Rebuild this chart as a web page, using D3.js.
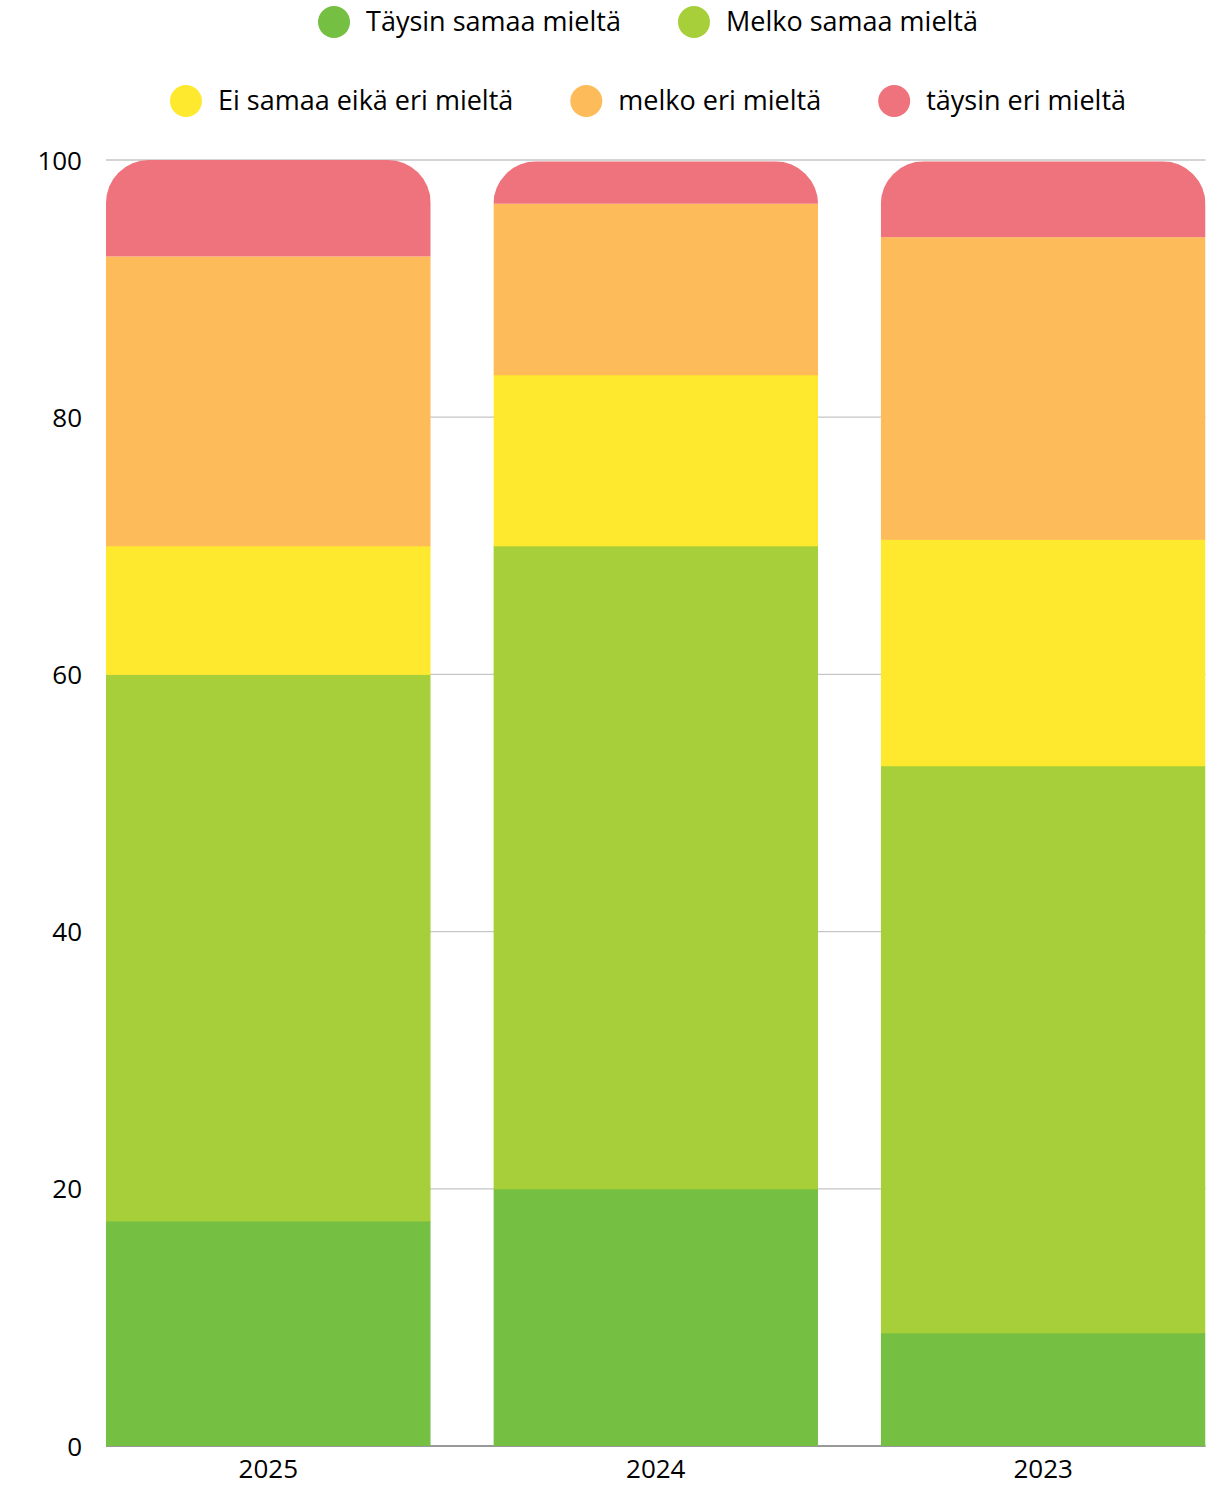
<!DOCTYPE html>
<html>
<head>
<meta charset="utf-8">
<script src="https://cdn.jsdelivr.net/npm/d3@7"></script>
<style>
  html, body { margin: 0; padding: 0; background: #fff; }
  svg { display: block; font-family: "Open Sans", sans-serif; }
</style>
</head>
<body>
<svg id="chart" width="1230" height="1485"></svg>
<script>
// Survey years (x categories)
const years = ["2025", "2024", "2023"];

// Answer categories, bottom to top of each stack
const seriesNames = [
  "Täysin samaa mieltä",
  "Melko samaa mieltä",
  "Ei samaa eikä eri mieltä",
  "melko eri mieltä",
  "täysin eri mieltä"
];
const seriesColors = ["#75bf43", "#a7cf3a", "#ffe92e", "#fdbb59", "#ef737c"];

// Share of answers (%) per year, one array per category
const taysinSamaa  = [17.5, 20.0, 8.8];
const melkoSamaa   = [42.5, 50.0, 44.1];
const eiSamaaEiEri = [10.0, 13.3, 17.6];
const melkoEri     = [22.5, 13.3, 23.5];
const taysinEri    = [7.5, 3.3, 5.9];

// Y axis ticks
const yTicks = [0, 20, 40, 60, 80, 100];

const seriesValues = [taysinSamaa, melkoSamaa, eiSamaaEiEri, melkoEri, taysinEri];

const rows = years.map((yr, i) => {
  const r = { year: yr };
  seriesNames.forEach((s, k) => { r[s] = seriesValues[k][i]; });
  return r;
});

const svg = d3.select("#chart");
const W = 1230, H = 1485;
const plotLeft = 106, plotRight = 1205.5, plotTop = 160, plotBottom = 1446;
const fontSize = 26;
const legendFontSize = 27;

const x = d3.scaleBand()
  .domain(years)
  .range([plotLeft, plotRight])
  .paddingInner(0.1618)
  .paddingOuter(0);

const y = d3.scaleLinear().domain([0, 100]).range([plotBottom, plotTop]);

// gridlines
svg.append("g")
  .selectAll("line")
  .data(yTicks.filter(d => d > 0))
  .join("line")
  .attr("x1", plotLeft).attr("x2", plotRight)
  .attr("y1", d => y(d)).attr("y2", d => y(d))
  .attr("stroke", "#c6c6c6").attr("stroke-width", 1.3);

// y axis labels
const yAxis = d3.axisLeft(y).tickValues(yTicks).tickSize(0).tickPadding(0);
const gy = svg.append("g").attr("transform", "translate(82,0)").call(yAxis);
gy.select(".domain").remove();
gy.selectAll("text")
  .attr("font-family", "Open Sans, sans-serif")
  .attr("font-size", fontSize)
  .attr("fill", "#000")
  .attr("dy", "0.35em");

// baseline
svg.append("line")
  .attr("x1", plotLeft).attr("x2", plotRight)
  .attr("y1", y(0)).attr("y2", y(0))
  .attr("stroke", "#777").attr("stroke-width", 1.5);

// stacked bars, each stack clipped to a shape with rounded top corners
const stacked = d3.stack().keys(seriesNames)(rows);

const radius = 43;
const defs = svg.append("defs");

rows.forEach((r, i) => {
  const total = seriesNames.reduce((a, s) => a + r[s], 0);
  const x0 = x(r.year), w = x.bandwidth();
  const yTop = y(total), yBot = y(0);
  const rr = Math.min(radius, w / 2, yBot - yTop);
  defs.append("clipPath").attr("id", "clip" + i)
    .append("path").attr("d",
      `M${x0},${yBot} L${x0},${yTop + rr} A${rr},${rr} 0 0 1 ${x0 + rr},${yTop} ` +
      `L${x0 + w - rr},${yTop} A${rr},${rr} 0 0 1 ${x0 + w},${yTop + rr} L${x0 + w},${yBot} Z`);
});

const layer = svg.append("g");
stacked.forEach((s, k) => {
  layer.append("g")
    .attr("fill", seriesColors[k])
    .selectAll("rect")
    .data(s)
    .join("rect")
    .attr("clip-path", (d, i) => `url(#clip${i})`)
    .attr("x", d => x(d.data.year))
    .attr("width", x.bandwidth())
    .attr("y", d => y(d[1]))
    .attr("height", d => y(d[0]) - y(d[1]) + (k < seriesNames.length - 1 ? 0.5 : 0));
});

// x axis labels
const xAxis = d3.axisBottom(x).tickSize(0).tickPadding(0);
const gx = svg.append("g").attr("transform", `translate(0,${y(0)})`).call(xAxis);
gx.select(".domain").remove();
gx.selectAll("text")
  .attr("font-family", "Open Sans, sans-serif")
  .attr("font-size", fontSize)
  .attr("fill", "#000")
  .attr("dy", null)
  .attr("y", 32);

// legend in two centered rows
const legendRows = [[0, 1], [2, 3, 4]];
const legendRowY = [22, 101];
const legendCenter = 648;
const dotR = 16, dotGap = 16, itemGap = 57;

legendRows.forEach((idxs, ri) => {
  const g = svg.append("g");
  const items = idxs.map(k => {
    const it = g.append("g");
    it.append("circle").attr("r", dotR).attr("cx", dotR).attr("cy", 0).attr("fill", seriesColors[k]);
    const t = it.append("text")
      .attr("x", dotR * 2 + dotGap)
      .attr("y", 0)
      .attr("dy", "0.35em")
      .attr("font-size", legendFontSize)
      .attr("fill", "#000")
      .text(seriesNames[k]);
    const w = dotR * 2 + dotGap + t.node().getComputedTextLength();
    return { it, w };
  });
  const total = items.reduce((a, d) => a + d.w, 0) + itemGap * (items.length - 1);
  let cx = legendCenter - total / 2;
  items.forEach(d => {
    d.it.attr("transform", `translate(${cx},${legendRowY[ri]})`);
    cx += d.w + itemGap;
  });
});
</script>
</body>
</html>
